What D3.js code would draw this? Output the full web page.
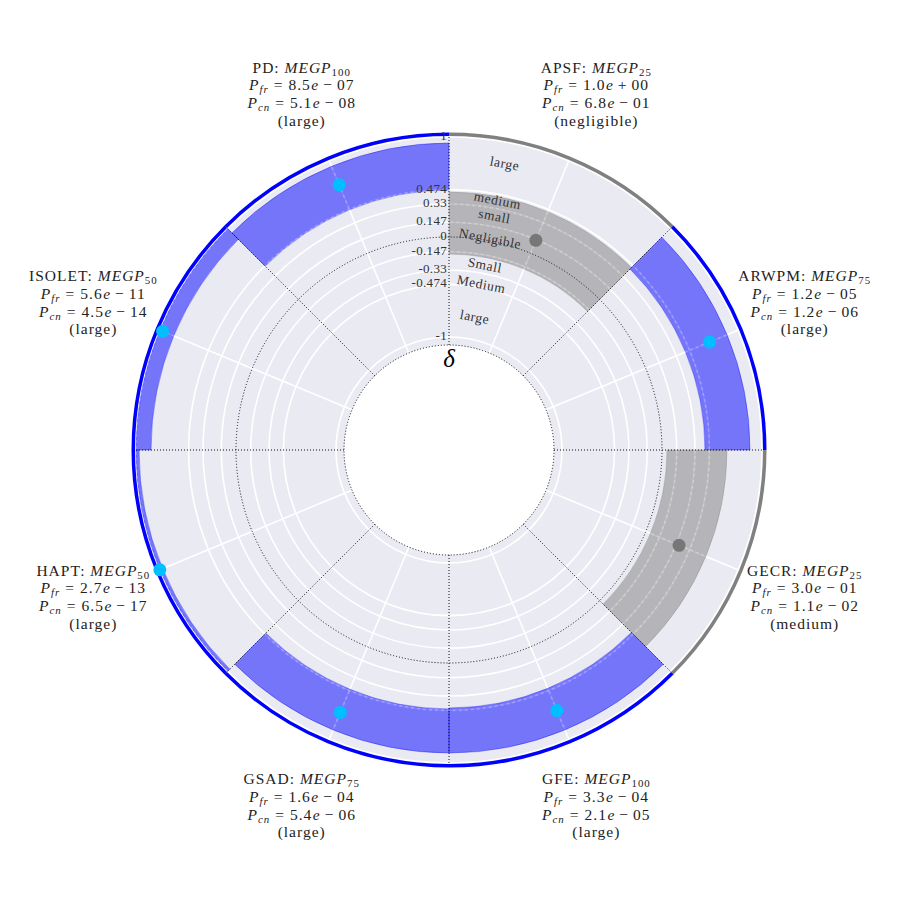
<!DOCTYPE html>
<html>
<head>
<meta charset="utf-8">
<script src="https://cdn.jsdelivr.net/npm/d3@7"></script>
<style>
  body { margin: 0; background: #fff; }
  text { font-family: "Liberation Serif", "DejaVu Serif", serif; }
</style>
</head>
<body>
<div id="chart"></div>
<script>
// datasets, clockwise from the top
var names = ["APSF", "ARWPM", "GECR", "GFE", "GSAD", "HAPT", "ISOLET", "PD"];
var megp = ["25", "75", "25", "100", "75", "50", "50", "100"];
var pfr = [1.0e0, 1.2e-5, 3.0e-1, 3.3e-4, 1.6e-4, 2.7e-13, 5.6e-11, 8.5e-7];
var pcn = [6.8e-1, 1.2e-6, 1.1e-2, 2.1e-5, 5.4e-6, 6.5e-17, 4.5e-14, 5.1e-8];
var magnitude = ["negligible", "large", "medium", "large", "large", "large", "large", "large"];
var delta = [0.14, 0.69, 0.36, 0.69, 0.71, 1.0, 0.97, 0.74];
var ciLow = [-0.17, 0.43, 0.05, 0.45, 0.46, 0.97, 0.85, 0.47];
var ciHigh = [0.45, 0.88, 0.65, 0.90, 0.90, 1.0, 1.0, 0.94];

// radial ticks (Cliff's delta thresholds)
var rTicks = [1, 0.474, 0.33, 0.147, 0, -0.147, -0.33, -0.474, -1];
var rTickLabels = ["1", "0.474", "0.33", "0.147", "0", "-0.147", "-0.33", "-0.474", "-1"];
// magnitude names written in the first sector
var magNames = ["large", "medium", "small", "Negligible", "Small", "Medium", "large"];
var magAt = [0.79, 0.415, 0.255, 0.026, -0.245, -0.438, -0.774];

var width = 900, height = 900, cx = 449, cy = 450;
var n = names.length;
var step = 2 * Math.PI / n;

var r = d3.scaleLinear().domain([-1.08, 1.03]).range([105, 316]);
var rHole = r(-1.08), rOuter = r(1.03);

var svg = d3.select("#chart").append("svg")
  .attr("width", width)
  .attr("height", height);
svg.append("rect").attr("width", width).attr("height", height).attr("fill", "#fff");

var g = svg.append("g").attr("transform", "translate(" + cx + "," + cy + ")");

function px(a, rad) { return Math.sin(a) * rad; }
function py(a, rad) { return -Math.cos(a) * rad; }

// background
g.append("circle").attr("r", rOuter).attr("fill", "#eaeaf2");
g.append("circle").attr("r", rHole).attr("fill", "#fff");

// white grid
var gridTicks = rTicks.filter(function(d) { return d != 0; });
function drawGrid(layer, dash, op) {
  layer.selectAll(null).data(gridTicks).enter().append("circle")
    .attr("r", function(d) { return r(d); })
    .attr("fill", "none")
    .attr("stroke", "#fff")
    .attr("stroke-width", 1.6)
    .attr("stroke-opacity", op)
    .attr("stroke-dasharray", dash);
  layer.selectAll(null).data(d3.range(n)).enter().append("line")
    .attr("x1", function(i) { return px((i + 0.5) * step, rHole); })
    .attr("y1", function(i) { return py((i + 0.5) * step, rHole); })
    .attr("x2", function(i) { return px((i + 0.5) * step, rOuter); })
    .attr("y2", function(i) { return py((i + 0.5) * step, rOuter); })
    .attr("stroke", "#fff")
    .attr("stroke-width", 1.6)
    .attr("stroke-opacity", op)
    .attr("stroke-dasharray", dash);
}
drawGrid(g.append("g"), null, 1);

function isLarge(i) { return magnitude[i] == "large"; }

// confidence bands
var arc = d3.arc();
g.selectAll(".band").data(d3.range(n)).enter().append("path")
  .attr("class", "band")
  .attr("d", function(i) {
    return arc({ innerRadius: r(ciLow[i]), outerRadius: r(ciHigh[i]),
                 startAngle: i * step, endAngle: (i + 1) * step });
  })
  .attr("fill", function(i) { return isLarge(i) ? "#0000ff" : "#808080"; })
  .attr("fill-opacity", 0.5)
  .attr("stroke", function(i) { return isLarge(i) ? "#0000ff" : "#808080"; })
  .attr("stroke-opacity", 0.35)
  .attr("stroke-width", 1);

// faint dashed grid showing through the bands
drawGrid(g.append("g"), "3,3", 0.25);

// black dotted lines: zero circle, hole edge, sector borders
g.append("circle").attr("r", r(0)).attr("fill", "none")
  .attr("stroke", "#111").attr("stroke-width", 1).attr("stroke-dasharray", "1,2");
g.append("circle").attr("r", rHole).attr("fill", "none")
  .attr("stroke", "#111").attr("stroke-width", 1).attr("stroke-dasharray", "1,2");
g.selectAll(".sep").data(d3.range(n)).enter().append("line")
  .attr("x1", function(i) { return px(i * step, rHole); })
  .attr("y1", function(i) { return py(i * step, rHole); })
  .attr("x2", function(i) { return px(i * step, rOuter); })
  .attr("y2", function(i) { return py(i * step, rOuter); })
  .attr("stroke", "#111").attr("stroke-width", 1).attr("stroke-dasharray", "1,2");

// outer ring per sector
g.selectAll(".ring").data(d3.range(n)).enter().append("path")
  .attr("d", function(i) {
    return arc({ innerRadius: rOuter - 2, outerRadius: rOuter + 1.5,
                 startAngle: i * step, endAngle: (i + 1) * step });
  })
  .attr("fill", function(i) { return isLarge(i) ? "#0000ff" : "#808080"; });

// estimates
g.selectAll(".dot").data(d3.range(n)).enter().append("circle")
  .attr("cx", function(i) { return px((i + 0.5) * step, r(delta[i])); })
  .attr("cy", function(i) { return py((i + 0.5) * step, r(delta[i])); })
  .attr("r", 6.5)
  .attr("fill", function(i) { return isLarge(i) ? "#00bfff" : "#777"; });

// radial tick labels
g.selectAll(".rlab").data(rTicks).enter().append("text")
  .attr("x", -2)
  .attr("y", function(d) { return -r(d) + 3; })
  .attr("text-anchor", "end")
  .attr("font-size", 13)
  .attr("letter-spacing", 0.3)
  .attr("fill", "#333")
  .text(function(d, i) { return rTickLabels[i]; });

// magnitude names
var magAngle = 11;
g.selectAll(".mag").data(magAt).enter().append("text")
  .attr("transform", function(d) {
    var a = magAngle * Math.PI / 180;
    return "translate(" + px(a, r(d)) + "," + py(a, r(d)) + ") rotate(" + magAngle + ")";
  })
  .attr("text-anchor", "middle")
  .attr("dy", "0.35em")
  .attr("font-size", 13.5)
  .attr("letter-spacing", 0.6)
  .attr("fill", "#333")
  .text(function(d, i) { return magNames[i]; });

g.append("text")
  .attr("x", 0).attr("y", -r(-1) + 30)
  .attr("text-anchor", "middle")
  .attr("font-size", 25)
  .attr("font-style", "italic")
  .text("δ");

// annotations around the chart
var fs = 15.5;
function sci(v) {
  var p = v.toExponential(1).split("e");
  var ex = p[1].slice(1);
  if (ex.length < 2) ex = "0" + ex;
  return { m: p[0], s: p[1][0] == "-" ? "\u2212" : "+", e: ex };
}
function addParts(t, parts) {
  parts.forEach(function(p) {
    var ts = t.append("tspan").text(p.t);
    if (p.it) ts.attr("font-style", "italic");
    if (p.sub) ts.attr("font-size", fs * 0.7).attr("dy", 3);
    if (p.up) ts.attr("dy", -3);
    if (p.dx) ts.attr("dx", p.dx);
  });
}
function pLine(t, subName, v) {
  var s = sci(v);
  addParts(t, [
    { t: "P", it: true },
    { t: subName, it: true, sub: true },
    { t: "=", up: true, dx: 5 },
    { t: s.m, dx: 5 },
    { t: "e", it: true, dx: 0.5 },
    { t: s.s, dx: 4 },
    { t: s.e, dx: 4 }
  ]);
}

var R = 385, lh = 17.7;
d3.range(n).forEach(function(i) {
  var a = (i + 0.5) * step;
  var x = px(a, R), y = py(a, R);
  function line(k) {
    return g.append("text").attr("x", x).attr("y", y + k * lh + 5)
      .attr("text-anchor", "middle").attr("font-size", fs)
      .attr("letter-spacing", 1).attr("fill", "#222");
  }
  addParts(line(-1.5), [{ t: names[i] + ": " }, { t: "MEGP", it: true }, { t: megp[i], sub: true }]);
  pLine(line(-0.5), "fr", pfr[i]);
  pLine(line(0.5), "cn", pcn[i]);
  line(1.5).text("(" + magnitude[i] + ")");
});
</script>
</body>
</html>
